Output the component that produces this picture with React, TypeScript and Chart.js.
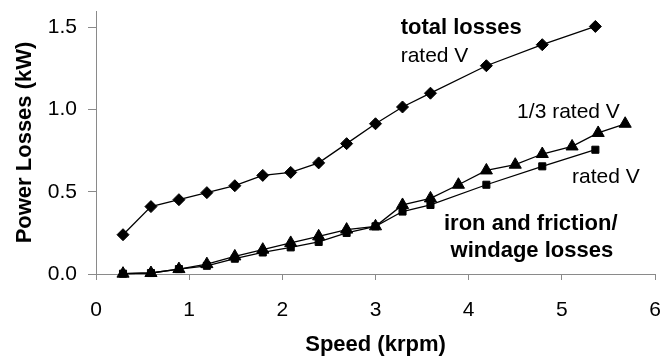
import React, { useEffect, useRef } from "react";
import { Chart, registerables } from "chart.js";

Chart.register(...registerables);

const FONT = "'Liberation Sans', Arial, sans-serif";

// Total losses at rated voltage
const speedTotal = [0.29, 0.59, 0.89, 1.19, 1.49, 1.79, 2.09, 2.39, 2.69, 3.0, 3.29, 3.59, 4.19, 4.79, 5.36];
const totalLosses = [0.239, 0.41, 0.452, 0.495, 0.537, 0.6, 0.618, 0.676, 0.793, 0.914, 1.016, 1.1, 1.267, 1.395, 1.506];

// Iron and friction/windage losses at rated voltage
const speedIronRated = [0.29, 0.59, 0.89, 1.19, 1.49, 1.79, 2.09, 2.39, 2.69, 3.0, 3.29, 3.59, 4.19, 4.79, 5.36];
const ironRated = [0.002, 0.006, 0.03, 0.05, 0.093, 0.131, 0.162, 0.195, 0.25, 0.29, 0.38, 0.42, 0.543, 0.655, 0.756];

// Iron and friction/windage losses at 1/3 rated voltage
const speedIronThird = [0.29, 0.59, 0.89, 1.19, 1.49, 1.79, 2.09, 2.39, 2.69, 3.0, 3.29, 3.59, 3.89, 4.19, 4.5, 4.79, 5.11, 5.39, 5.68];
const ironThird = [0.002, 0.006, 0.03, 0.06, 0.107, 0.148, 0.189, 0.229, 0.27, 0.29, 0.42, 0.46, 0.543, 0.63, 0.665, 0.73, 0.776, 0.858, 0.914];

const xTickValues = [0, 1, 2, 3, 4, 5, 6];
const yTickValues = [0, 0.5, 1.0, 1.5];

// Curve labels, anchored in data units (x = left edge, y = text baseline)
const noteTexts = ["total losses", "rated V", "1/3 rated V", "rated V", "iron and friction/", "windage losses"];
const noteBold = [true, false, false, false, true, true];
const noteX = [3.27, 3.27, 4.52, 5.11, 3.735, 3.806];
const noteY = [1.46, 1.287, 0.949, 0.553, 0.269, 0.105];

const toPoints = (xs: number[], ys: number[]) => xs.map((x, i) => ({ x, y: ys[i] }));

// Keep the plot area fixed: drop the extra room Chart.js reserves for edge labels
const clearEdgePadding = (s: any) => {
  s.paddingLeft = 0;
  s.paddingRight = 0;
  s.paddingTop = 0;
  s.paddingBottom = 0;
};

export default function App() {
  const ref = useRef<HTMLCanvasElement>(null);

  useEffect(() => {
    const canvas = ref.current;
    if (!canvas) return;

    const notesPlugin = {
      id: "curveNotes",
      afterDatasetsDraw(chart: any) {
        const { ctx, scales } = chart;
        ctx.save();
        ctx.fillStyle = "#000";
        ctx.textAlign = "left";
        ctx.textBaseline = "alphabetic";
        noteTexts.forEach((t, i) => {
          ctx.font = noteBold[i] ? `bold 22px ${FONT}` : `21px ${FONT}`;
          ctx.fillText(t, scales.x.getPixelForValue(noteX[i]), scales.y.getPixelForValue(noteY[i]));
        });
        ctx.restore();
      },
    };

    const lineStyle = {
      showLine: true,
      clip: false as const,
      borderColor: "#000",
      backgroundColor: "#000",
      borderWidth: 1.3,
      pointBackgroundColor: "#000",
      pointBorderColor: "#000",
      pointBorderWidth: 1,
      tension: 0,
    };

    const tickFont = { family: FONT, size: 21 };
    const titleFont = { family: FONT, size: 22, weight: "bold" as const };
    const axisGray = "#8a8a8a";

    const chart = new Chart(canvas, {
      type: "scatter",
      data: {
        datasets: [
          {
            ...lineStyle,
            label: "total losses",
            data: toPoints(speedTotal, totalLosses),
            pointStyle: "rectRot",
            pointRadius: 6,
          },
          {
            ...lineStyle,
            label: "iron and friction/windage, rated V",
            data: toPoints(speedIronRated, ironRated),
            pointStyle: "rect",
            pointRadius: 5,
          },
          {
            ...lineStyle,
            label: "iron and friction/windage, 1/3 rated V",
            data: toPoints(speedIronThird, ironThird),
            pointStyle: "triangle",
            pointRadius: 7,
          },
        ],
      },
      options: {
        responsive: false,
        maintainAspectRatio: false,
        animation: false,
        devicePixelRatio: 1,
        layout: { padding: { top: 11, right: 9, left: 0, bottom: 0 } },
        plugins: {
          legend: { display: false },
          tooltip: { enabled: false },
        },
        scales: {
          x: {
            type: "linear",
            min: 0,
            max: 6,
            afterBuildTicks: (s: any) => {
              s.ticks = xTickValues.map((v) => ({ value: v }));
            },
            afterFit: (s: any) => {
              s.height = 84;
              clearEdgePadding(s);
            },
            ticks: { font: tickFont, color: "#000", padding: 18 },
            grid: { drawOnChartArea: false, drawTicks: true, tickLength: 6, tickColor: axisGray },
            border: { display: true, color: axisGray, width: 1 },
            title: {
              display: true,
              text: "Speed (krpm)",
              font: titleFont,
              color: "#000",
              padding: { top: 0, bottom: 0 },
            },
          },
          y: {
            type: "linear",
            min: 0,
            max: 1.6,
            afterBuildTicks: (s: any) => {
              s.ticks = yTickValues.map((v) => ({ value: v }));
            },
            afterFit: (s: any) => {
              s.width = 96;
              clearEdgePadding(s);
            },
            ticks: {
              font: tickFont,
              color: "#000",
              padding: 11,
              callback: (v: any) => Number(v).toFixed(1),
            },
            grid: { drawOnChartArea: false, drawTicks: true, tickLength: 8, tickColor: axisGray },
            border: { display: true, color: axisGray, width: 1 },
            title: {
              display: true,
              text: "Power Losses (kW)",
              font: titleFont,
              color: "#000",
              padding: { top: 12, bottom: 0 },
            },
          },
        },
      },
      plugins: [notesPlugin],
    });

    return () => chart.destroy();
  }, []);

  return (
    <div style={{ position: "absolute", left: 0, top: 0, width: 664, height: 358, background: "#fff" }}>
      <canvas ref={ref} width={664} height={358} style={{ display: "block" }} />
    </div>
  );
}
